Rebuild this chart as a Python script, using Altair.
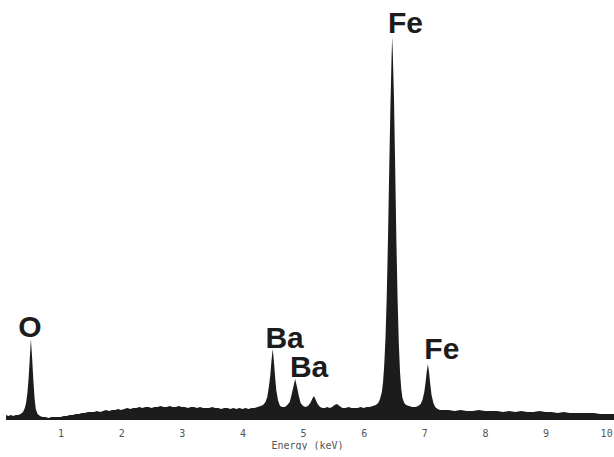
import altair as alt
import pandas as pd

# Energy (keV) and counts
energy = [
    0.10, 0.14, 0.18, 0.22, 0.26, 0.30, 0.34,
    0.38, 0.41, 0.43, 0.45, 0.47, 0.49, 0.51, 0.53, 0.55, 0.57, 0.59, 0.62, 0.66,
    0.70, 0.75, 0.80, 0.85, 0.90, 0.95, 1.00, 1.05, 1.10, 1.15, 1.20, 1.25, 1.30,
    1.35, 1.40, 1.45, 1.50, 1.55, 1.60, 1.65, 1.70, 1.75, 1.80, 1.85, 1.90, 1.95,
    2.00, 2.05, 2.10, 2.15, 2.20, 2.25, 2.30, 2.35, 2.40, 2.45, 2.50, 2.55, 2.60,
    2.65, 2.70, 2.75, 2.80, 2.85, 2.90, 2.95, 3.00, 3.05, 3.10, 3.15, 3.20, 3.25,
    3.30, 3.35, 3.40, 3.45, 3.50, 3.55, 3.60, 3.65, 3.70, 3.75, 3.80, 3.85, 3.90,
    3.95, 4.00, 4.05, 4.10, 4.15, 4.20, 4.25, 4.30,
    4.34, 4.38, 4.41, 4.44, 4.46, 4.48, 4.50, 4.52, 4.54, 4.56, 4.59, 4.62, 4.66, 4.70,
    4.74, 4.78, 4.81, 4.84, 4.87, 4.90, 4.93, 4.96, 5.00, 5.04,
    5.08, 5.12, 5.15, 5.18, 5.21, 5.24, 5.28, 5.32, 5.36, 5.40, 5.44,
    5.48, 5.52, 5.56, 5.60, 5.65, 5.70, 5.75, 5.80, 5.85, 5.90, 5.95, 6.00, 6.05, 6.10, 6.15,
    6.20, 6.24, 6.27, 6.30, 6.32, 6.34, 6.36, 6.38, 6.40, 6.42, 6.44, 6.46, 6.47,
    6.48, 6.50, 6.52, 6.54, 6.56, 6.58, 6.60, 6.62, 6.64, 6.67, 6.70,
    6.75, 6.80, 6.85, 6.90,
    6.94, 6.97, 7.00, 7.02, 7.04, 7.06, 7.08, 7.10, 7.12, 7.15, 7.18, 7.22,
    7.26, 7.30, 7.40, 7.50, 7.60, 7.70, 7.80, 7.90, 8.00, 8.10, 8.20, 8.30, 8.40,
    8.50, 8.60, 8.70, 8.80, 8.90, 9.00, 9.10, 9.20, 9.30, 9.40, 9.50, 9.60, 9.70,
    9.80, 9.90, 10.00, 10.13,
]
counts = [
    5, 4, 5, 4, 5, 5, 6,
    8, 12, 17, 26, 40, 60, 81, 62, 40, 22, 11, 6, 4,
    3, 3, 2, 3, 3, 3, 3, 4, 4, 5, 5, 6, 6,
    7, 7, 8, 8, 8, 9, 8, 9, 10, 9, 10, 10, 11,
    10, 11, 12, 11, 12, 12, 13, 12, 13, 13, 12, 13, 13,
    14, 13, 13, 14, 13, 13, 14, 13, 13, 12, 13, 13, 12,
    13, 12, 12, 12, 13, 12, 12, 11, 12, 12, 11, 12, 11,
    12, 11, 12, 11, 12, 12, 13, 14,
    15, 18, 23, 35, 45, 60, 71, 58, 42, 29, 19, 14, 13, 13,
    15, 18, 25, 33, 41, 33, 24, 17, 14, 13,
    14, 17, 21, 24, 20, 16, 13, 12, 12, 13, 12,
    13, 15, 16, 14, 12, 12, 13, 12, 12, 12, 13, 12, 13, 13, 14,
    15, 17, 21, 28, 38, 56, 82, 122, 178, 245, 310, 362, 383,
    368, 322, 252, 178, 120, 76, 48, 31, 22, 17, 15,
    14, 13, 13, 14,
    16, 20, 28, 37, 48, 56, 47, 35, 25, 17, 13, 11,
    10, 10, 10, 9, 10, 9, 9, 10, 9, 9, 9, 8, 9,
    8, 9, 8, 8, 9, 8, 8, 7, 8, 7, 7, 7, 7,
    7, 6, 6, 6,
]

# Peak labels
label_text = ["O", "Ba", "Ba", "Fe", "Fe"]
label_energy = [0.495, 4.695, 5.10, 6.69, 7.29]
label_counts = [83, 72, 43, 387, 61]

tick_values = [1, 2, 3, 4, 5, 6, 7, 8, 9, 10]

spec = pd.DataFrame({"energy": energy, "counts": counts})
labels = pd.DataFrame({"text": label_text, "energy": label_energy, "counts": label_counts})

xscale = alt.Scale(domain=[0, 10.13], nice=False, zero=False)
yscale = alt.Scale(domain=[0, 420], nice=False)

area = alt.Chart(spec).mark_area(color="#1c1c1c", interpolate="linear", clip=True).encode(
    x=alt.X(
        "energy:Q",
        scale=xscale,
        axis=alt.Axis(
            values=tick_values,
            format="d",
            domain=False,
            ticks=False,
            grid=False,
            labelFont="DejaVu Sans Mono",
            labelFontSize=10,
            labelColor="#555555",
            labelPadding=8,
            title="Energy (keV)",
            titleFont="DejaVu Sans Mono",
            titleFontSize=10,
            titleFontWeight="normal",
            titleColor="#555555",
            titlePadding=2,
        ),
    ),
    y=alt.Y("counts:Q", scale=yscale, axis=None),
)

text = alt.Chart(labels).mark_text(
    font="Liberation Sans",
    fontSize=30,
    fontWeight="bold",
    color="#1c1c1c",
    align="center",
    baseline="alphabetic",
).encode(
    x=alt.X("energy:Q", scale=xscale),
    y=alt.Y("counts:Q", scale=yscale),
    text="text:N",
)

chart = (
    alt.layer(area, text)
    .properties(width=614, height=420, padding=0, background="white")
    .configure_view(stroke=None)
)

chart.save("out.html", embed_options={"renderer": "svg", "actions": False})
